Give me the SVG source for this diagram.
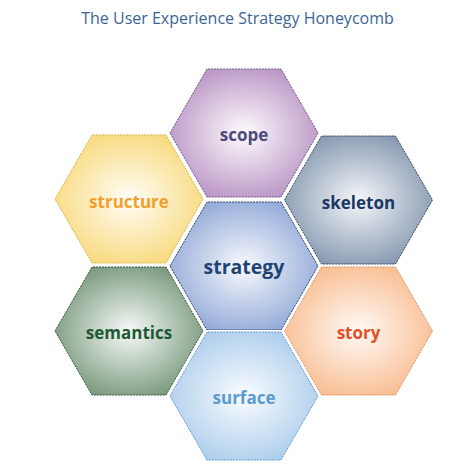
<svg xmlns="http://www.w3.org/2000/svg" width="470" height="470" viewBox="0 0 470 470">
<style>
.title{font-family:"Open Sans","Noto Sans",sans-serif;font-size:16px;fill:#3d6593;text-anchor:middle}
.lbl{font-family:"Open Sans","Noto Sans",sans-serif;font-weight:700;font-size:17px;text-anchor:middle}
.halo{fill:none;stroke:#ffffff;stroke-width:4}
.edge{stroke-width:1;stroke-dasharray:2 1}
</style>
<defs>
<polygon id="hex" points="-74,0 -37,-64 37,-64 74,0 37,64 -37,64"/>
<radialGradient id="gScope" cx="0.5" cy="0.5" r="0.6"><stop offset="0" stop-color="#fdfbfd"/><stop offset="1" stop-color="#b48cc0"/></radialGradient>
<radialGradient id="gStructure" cx="0.5" cy="0.5" r="0.6"><stop offset="0" stop-color="#fffef8"/><stop offset="1" stop-color="#f8d672"/></radialGradient>
<radialGradient id="gSkeleton" cx="0.5" cy="0.5" r="0.6"><stop offset="0" stop-color="#f6f7fa"/><stop offset="1" stop-color="#7c90aa"/></radialGradient>
<radialGradient id="gStrategy" cx="0.5" cy="0.5" r="0.6"><stop offset="0" stop-color="#f8f9fe"/><stop offset="1" stop-color="#8aa3d4"/></radialGradient>
<radialGradient id="gSemantics" cx="0.5" cy="0.5" r="0.6"><stop offset="0" stop-color="#f8faf8"/><stop offset="1" stop-color="#6d9172"/></radialGradient>
<radialGradient id="gStory" cx="0.5" cy="0.5" r="0.6"><stop offset="0" stop-color="#fffaf6"/><stop offset="1" stop-color="#f8b889"/></radialGradient>
<radialGradient id="gSurface" cx="0.5" cy="0.5" r="0.6"><stop offset="0" stop-color="#fafcff"/><stop offset="1" stop-color="#a6caea"/></radialGradient>
</defs>
<rect width="470" height="470" fill="#ffffff"/>
<text class="title" x="237.5" y="24">The User Experience Strategy Honeycomb</text>
<g id="connectors"></g>
<g id="scope" transform="translate(244,133)">
<use href="#hex" class="halo"/>
<use href="#hex" class="edge" fill="url(#gScope)" stroke="#6b5a8c"/>
<text class="lbl" y="8" fill="#4b4a7a">scope</text>
</g>
<g id="structure" transform="translate(129,199)">
<use href="#hex" class="halo"/>
<use href="#hex" class="edge" fill="url(#gStructure)" stroke="#d9b54a"/>
<text class="lbl" y="9" fill="#f0a02c">structure</text>
</g>
<g id="skeleton" transform="translate(358.5,200)">
<use href="#hex" class="halo"/>
<use href="#hex" class="edge" fill="url(#gSkeleton)" stroke="#34445c"/>
<text class="lbl" y="9" fill="#1a3864">skeleton</text>
</g>
<g id="strategy" transform="translate(244,266)">
<use href="#hex" class="halo"/>
<use href="#hex" class="edge" fill="url(#gStrategy)" stroke="#2a3f6a"/>
<text class="lbl" y="8" fill="#1f4474" style="font-size:19.5px">strategy</text>
</g>
<g id="semantics" transform="translate(129,331)">
<use href="#hex" class="halo"/>
<use href="#hex" class="edge" fill="url(#gSemantics)" stroke="#34543a"/>
<text class="lbl" y="8" fill="#1e5a34">semantics</text>
</g>
<g id="story" transform="translate(358.5,331)">
<use href="#hex" class="halo"/>
<use href="#hex" class="edge" fill="url(#gStory)" stroke="#e0925e"/>
<text class="lbl" y="8" fill="#e0522a">story</text>
</g>
<g id="surface" transform="translate(244,396)">
<use href="#hex" class="halo"/>
<use href="#hex" class="edge" fill="url(#gSurface)" stroke="#6a9acb"/>
<text class="lbl" y="8" fill="#5a9bd0">surface</text>
</g>
</svg>
